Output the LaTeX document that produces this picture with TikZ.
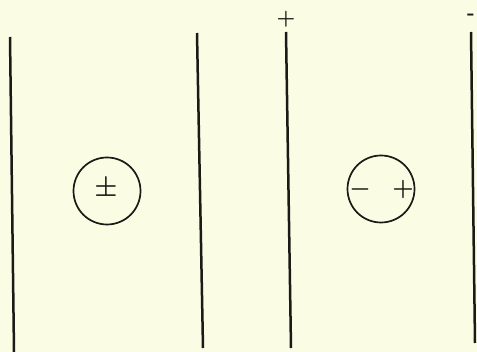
\documentclass[tikz,border=0pt]{standalone}
\definecolor{paper}{HTML}{FBFCE4}
\definecolor{ink}{HTML}{1A1A16}
\newcommand{\bigsign}[2]{\scalebox{#1}{\boldmath$#2$}}
\begin{document}
\begin{tikzpicture}[x=1pt,y=-1pt,
  plate/.style={draw=ink,line width=2.5pt},
  ion/.style={circle,draw=ink,line width=1.7pt,minimum size=67pt,inner sep=0pt},
  sign/.style={text=ink,inner sep=0pt}]
\fill[paper] (0,0) rectangle (477,352);
\useasboundingbox (0,0) rectangle (477,352);
\coordinate (p1t) at (10,37);  \coordinate (p1b) at (14,352);
\coordinate (p2t) at (197,33); \coordinate (p2b) at (203,348);
\coordinate (p3t) at (286,32); \coordinate (p3b) at (291,348);
\coordinate (p4t) at (471,32); \coordinate (p4b) at (475,343);
\draw[plate] (p1t) -- (p1b);
\draw[plate] (p2t) -- (p2b);
\draw[plate] (p3t) -- (p3b);
\draw[plate] (p4t) -- (p4b);
\node[sign] (tp) at (286,19) {\bigsign{2.1}{+}};
\node[sign] (tm) at (471,17) {\scalebox{2.0}{\bfseries -}};
\node[ion] (a) at (107,191) {};
\node[sign] (apm) at (106,189) {\bigsign{2.6}{\pm}};
\node[ion] (b) at (381,189) {};
\node[sign] (bm) at (360,190) {\bigsign{2.4}{-}};
\node[sign] (bp) at (403,190) {\bigsign{2.4}{+}};
\end{tikzpicture}
\end{document}
